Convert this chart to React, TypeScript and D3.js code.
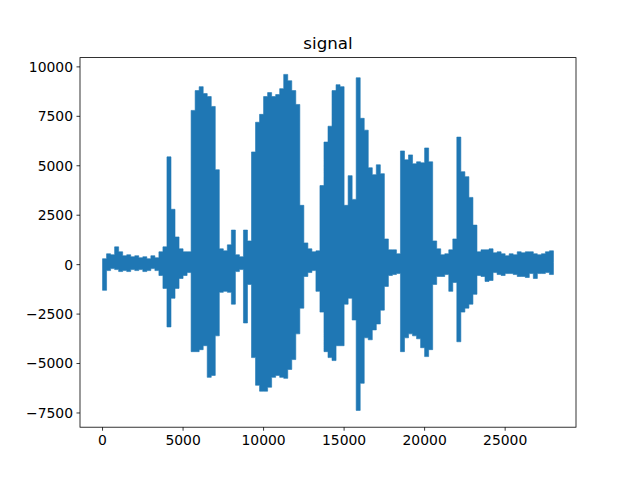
import React from 'react';
import * as d3 from 'd3';

const TOTAL_SAMPLES = 28000;
const BIN = 250;
const title = 'signal';

// Envelope of the waveform (max / min per 250-sample window).
// The last entry is the signal's end point at sample 28000.
const upper = [
  300, 550, 500, 900, 650, 450, 500, 400, 450, 350,
  400, 300, 450, 350, 650, 900, 5450, 2800, 1400, 800,
  650, 650, 7800, 8800, 9000, 8650, 8500, 8000, 4800, 800,
  700, 1000, 1750, 500, 400, 1750, 1200, 5700, 7200, 7600,
  8500, 8700, 8500, 8600, 8900, 9620, 9300, 8800, 8100, 3000,
  1100, 800, 650, 700, 4000, 6200, 7000, 8800, 9100, 9000,
  3000, 4500, 3300, 9450, 7400, 6800, 4900, 4550, 5050, 4600,
  1300, 750, 750, 550, 5750, 5300, 5550, 5100, 5200, 5150,
  5900, 5200, 1200, 800, 500, 550, 750, 1300, 6450, 4700,
  4450, 3400, 2000, 650, 750, 750, 800, 600, 650, 550,
  450, 550, 500, 650, 600, 650, 650, 550, 500, 550,
  650, 700, 650,
];

const lower = [
  -1300, -300, -200, -250, -350, -300, -350, -250, -300, -250,
  -350, -300, -200, -300, -550, -1200, -3150, -1700, -1200, -700,
  -550, -400, -4400, -4400, -4300, -4100, -5700, -5600, -3600, -1400,
  -1350, -1400, -2000, -350, -250, -2950, -1000, -4700, -6100, -6400,
  -6400, -6200, -5700, -5600, -5700, -5750, -5300, -4800, -3500, -2200,
  -600, -400, -300, -1350, -2400, -4400, -4700, -4850, -4100, -4100,
  -2000, -1700, -2800, -7370, -6000, -3700, -3800, -3300, -3000, -2300,
  -1100, -550, -500, -450, -4400, -3700, -3500, -3600, -3750, -4200,
  -4650, -4300, -1000, -600, -600, -500, -1350, -900, -3900, -2400,
  -2200, -2000, -1500, -550, -600, -850, -800, -400, -500, -550,
  -450, -450, -500, -600, -600, -650, -450, -700, -450, -450,
  -400, -500, 100,
];

const xTickValues = [0, 5000, 10000, 15000, 20000, 25000];
const yTickValues = [-7500, -5000, -2500, 0, 2500, 5000, 7500, 10000];

const fmt = (v: number) => String(v).replace('-', '\u2212');

export default function App() {
  const W = 640;
  const H = 480;
  const left = 80;
  const right = 576;
  const top = 57.6;
  const bottom = 427.2;
  const color = '#1f77b4';
  const font = 'DejaVu Sans, sans-serif';

  const n = upper.length;
  const xs = upper.map((_, i) => Math.min(i * BIN, TOTAL_SAMPLES));
  const xPad = 0.05 * TOTAL_SAMPLES;
  const x = d3.scaleLinear().domain([-xPad, TOTAL_SAMPLES + xPad]).range([left, right]);
  const ymin = d3.min(lower) as number;
  const ymax = d3.max(upper) as number;
  const yPad = 0.05 * (ymax - ymin);
  const y = d3.scaleLinear().domain([ymin - yPad, ymax + yPad]).range([bottom, top]);

  const idx = d3.range(n);
  const area = d3
    .area<number>()
    .x((i) => x(xs[i]))
    .y0((i) => y(lower[i]))
    .y1((i) => y(upper[i]))
    .curve(d3.curveStepAfter);

  return (
    <svg
      width={W}
      height={H}
      viewBox={`0 0 ${W} ${H}`}
      style={{ position: 'absolute', left: 0, top: 0, background: '#fff' }}
      fontFamily={font}
    >
      <rect x={0} y={0} width={W} height={H} fill="#fff" />
      <path d={area(idx) ?? ''} fill={color} stroke={color} strokeWidth={0.6} strokeLinejoin="round" />
      <rect
        x={left}
        y={top}
        width={right - left}
        height={bottom - top}
        fill="none"
        stroke="#000"
        strokeWidth={0.8}
      />
      {xTickValues.map((t) => (
        <g key={`x${t}`} transform={`translate(${x(t)},${bottom})`}>
          <line y1={0} y2={3.5} stroke="#000" strokeWidth={0.8} />
          <text y={17.5} textAnchor="middle" fontSize={13.9} fill="#000">
            {fmt(t)}
          </text>
        </g>
      ))}
      {yTickValues.map((t) => (
        <g key={`y${t}`} transform={`translate(${left},${y(t)})`}>
          <line x1={0} x2={-3.5} stroke="#000" strokeWidth={0.8} />
          <text x={-7} dy="0.35em" textAnchor="end" fontSize={13.9} fill="#000">
            {fmt(t)}
          </text>
        </g>
      ))}
      <text x={(left + right) / 2} y={top - 8.3} textAnchor="middle" fontSize={16.7} fill="#000">
        {title}
      </text>
    </svg>
  );
}
